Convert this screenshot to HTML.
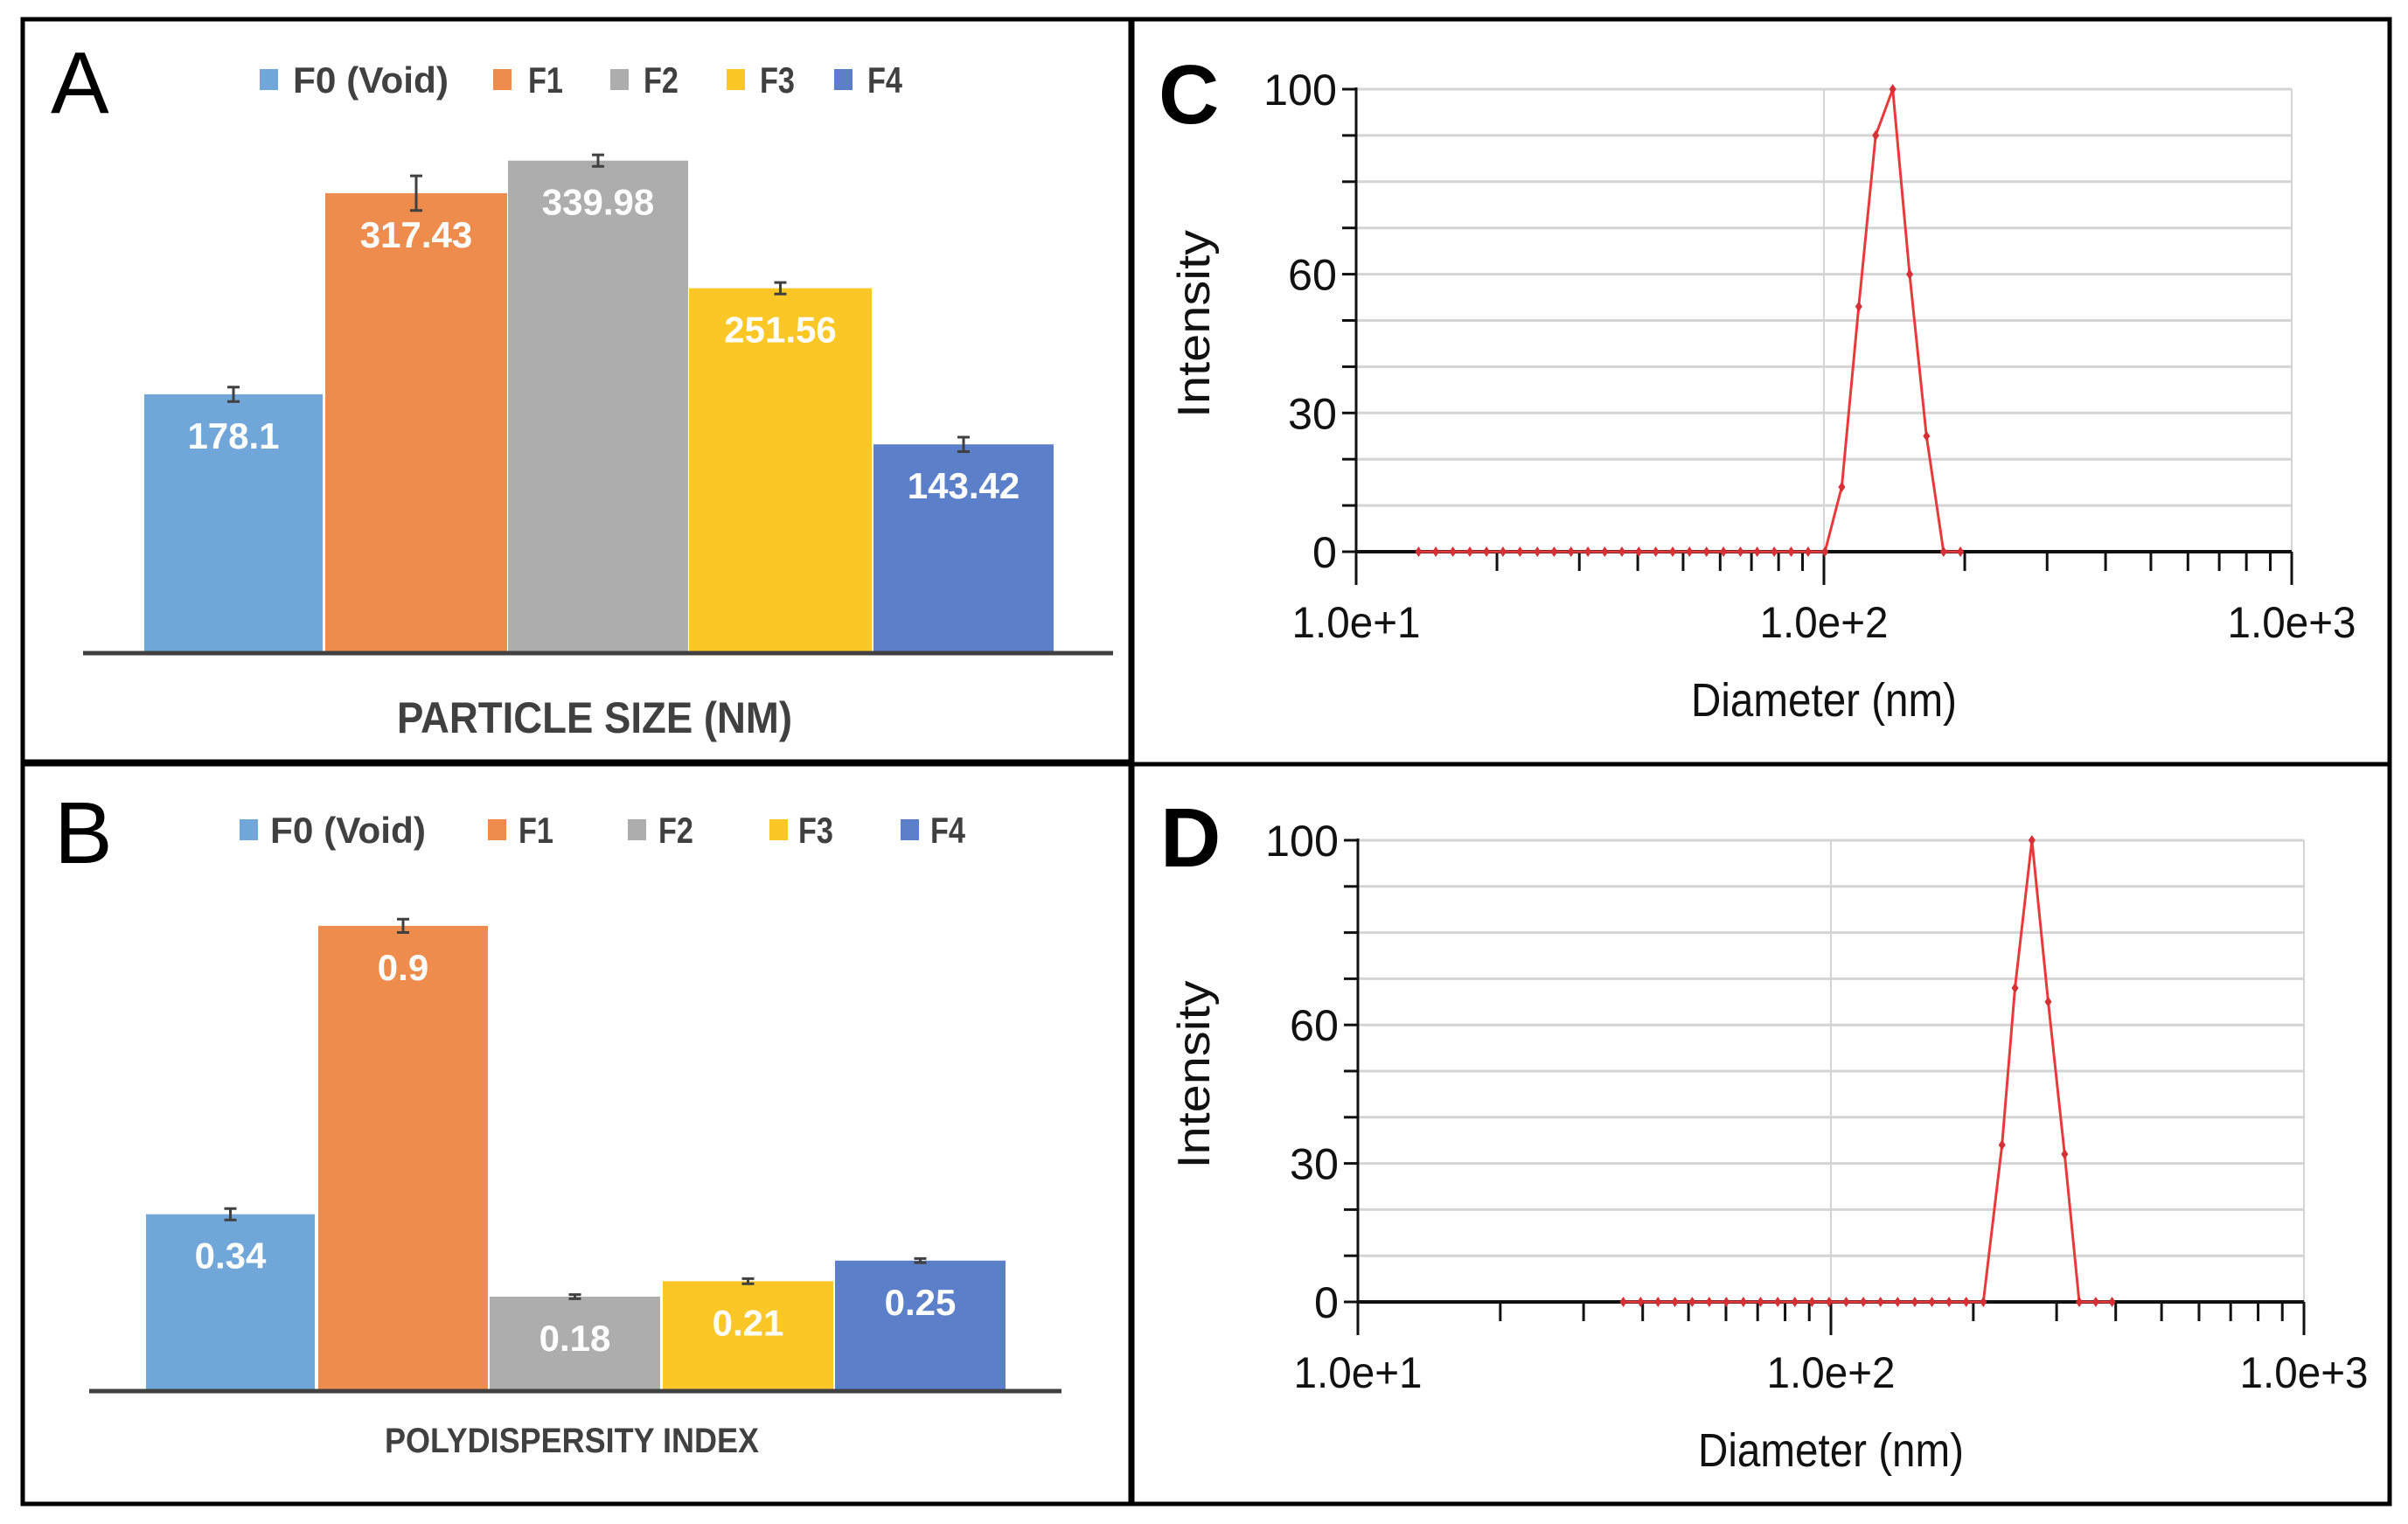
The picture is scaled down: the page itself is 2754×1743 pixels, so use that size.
<!DOCTYPE html>
<html><head><meta charset="utf-8"><style>
html,body{margin:0;padding:0;background:#fff;}
svg{display:block;}
text{font-family:"Liberation Sans",sans-serif;}
</style></head><body>
<svg id="root" width="2754" height="1743" viewBox="0 0 2754 1743" xmlns="http://www.w3.org/2000/svg">
  <rect x="0" y="0" width="2754" height="1743" fill="#fff"/>
  <g id="panelA"></g>
  <g id="panelB"></g>
  <g id="panelC"></g>
  <g id="panelD"></g>
</svg>
<script>
const categories = ["F0 (Void)", "F1", "F2", "F3", "F4"];
const sizeValues = [178.1, 317.43, 339.98, 251.56, 143.42];
const sizeErrors = [5, 12, 4, 4, 5];
const sizeLabels = ["178.1", "317.43", "339.98", "251.56", "143.42"];
const pdiValues = [0.34, 0.9, 0.18, 0.21, 0.25];
const pdiErrors = [0.011, 0.013, 0.004, 0.005, 0.004];
const pdiLabels = ["0.34", "0.9", "0.18", "0.21", "0.25"];
const colors = ["#70a6d8", "#ee8c4e", "#adadad", "#fbc726", "#5b80c9"];

const cDiam = [13.6,14.8,16.1,17.5,19.0,20.6,22.4,24.4,26.5,28.8,31.3,34.0,37.0,40.2,43.7,47.5,51.6,56.1,61.0,66.3,72.0,78.3,85.1,92.5,100.5,109.2,118.7,129,140.3,152.5,165.7,180.2,195.8];
const cInt  = [0,0,0,0,0,0,0,0,0,0,0,0,0,0,0,0,0,0,0,0,0,0,0,0,0,14,53,90,100,60,25,0,0];
const dDiam = [36.4,39.6,43.1,46.8,50.9,55.3,60.1,65.3,71.0,77.2,83.9,91.2,99.1,107.7,117.1,127.3,138.4,150.4,163.5,177.7,193.2,210,230,245,266,288,312,335,363,393];
const dInt  = [0,0,0,0,0,0,0,0,0,0,0,0,0,0,0,0,0,0,0,0,0,0,34,68,100,65,32,0,0,0];
const yTicks = [0, 30, 60, 100];
const xTickLabels = ["1.0e+1", "1.0e+2", "1.0e+3"];

const NS = "http://www.w3.org/2000/svg";
function mk(parent, tag, attrs, txt){
  const e = document.createElementNS(NS, tag);
  for (const k in attrs) e.setAttribute(k, attrs[k]);
  if (txt !== undefined) e.textContent = txt;
  parent.appendChild(e);
  return e;
}

function barPanel(g, box, letter, letterPos, legend, base, x0, x1, bars, vals, errs, labels, pxPerUnit, title, titleY, titleLen, titleSize){
  const fr = mk(g,'rect',{x:box[0],y:box[1],width:box[2]-box[0],height:box[3]-box[1],fill:'none',stroke:'#000','stroke-width':5});
   
  const L = mk(g,'text',{x:letterPos[0],y:letterPos[1],'font-size':100,fill:'#000'},letter);
   
  for (let i=0;i<categories.length;i++){
    const sq = mk(g,'rect',{x:legend.sq[i],y:legend.y-12,width:21,height:24,fill:colors[i]});
     
    const t = mk(g,'text',{x:legend.tx[i],y:legend.y+15,'font-size':42,'font-weight':'bold',fill:'#404040',textLength:i===0?178:40,lengthAdjust:'spacingAndGlyphs'},categories[i]);
     
  }
  const yS = v => base - v*pxPerUnit;
  for (let i=0;i<vals.length;i++){
    const top = yS(vals[i]);
    const r = mk(g,'rect',{x:bars[i][0],y:top,width:bars[i][1]-bars[i][0],height:base-top,fill:colors[i]});
     
    const cx = (bars[i][0]+bars[i][1])/2;
    const e1 = yS(vals[i]+errs[i]), e2 = yS(vals[i]-errs[i]);
    const eb = mk(g,'path',{d:`M${cx} ${e1}V${e2}M${cx-7} ${e1}H${cx+7}M${cx-7} ${e2}H${cx+7}`,stroke:'#404040','stroke-width':3,fill:'none'});
     
    const lt = mk(g,'text',{x:cx,y:top+62,'font-size':42,'font-weight':'bold',fill:'#fff','text-anchor':'middle'},labels[i]);
     
  }
  const ax = mk(g,'line',{x1:x0,y1:base+2,x2:x1,y2:base+2,stroke:'#404040','stroke-width':5});
   
  const tt = mk(g,'text',{x:(x0+x1)/2-4,y:titleY,'font-size':titleSize,'font-weight':'bold',fill:'#404040','text-anchor':'middle',textLength:titleLen,lengthAdjust:'spacingAndGlyphs'},title);
   
}

barPanel(document.getElementById('panelA'), [26,22,1293,871], 'A', [58,129],
  {y:91, sq:[297,564,698,831,954], tx:[335,604,736,869,992]},
  745, 95, 1273, [[165,369],[372,580],[581,787],[788,997],[999,1205]],
  sizeValues, sizeErrors, sizeLabels, 1.651, 'PARTICLE SIZE (NM)', 838, 452, 50);
barPanel(document.getElementById('panelB'), [26,874,1293,1720], 'B', [62,987],
  {y:949, sq:[274,558,718,880,1030], tx:[309,593,753,913,1064]},
  1589, 102, 1214, [[167,360],[364,558],[560,755],[758,953],[955,1150]],
  pdiValues, pdiErrors, pdiLabels, 589, 'POLYDISPERSITY INDEX', 1661, 428, 40);

function dlsPanel(g, box, letter, letterPos, px0, px3, py0, py100, diam, inten){
  const fr = mk(g,'rect',{x:box[0],y:box[1],width:box[2]-box[0],height:box[3]-box[1],fill:'none',stroke:'#000','stroke-width':5});
   
  const L = mk(g,'text',{x:letterPos[0],y:letterPos[1],'font-size':96,'font-weight':'bold',fill:'#000'},letter);
   
  const xS = d => px0 + (Math.log10(d)-1)/2*(px3-px0);
  const yS = v => py0 - v/100*(py0-py100);
  for (let v=10; v<=100; v+=10){
    const gl = mk(g,'line',{x1:px0,y1:yS(v),x2:px3,y2:yS(v),stroke:'#d4d4d4','stroke-width':3});
     
  }
  for (const d of [100,1000]){
    const vl = mk(g,'line',{x1:xS(d),y1:py100,x2:xS(d),y2:py0,stroke:'#d4d4d4','stroke-width':2});
     
  }
  const ya = mk(g,'line',{x1:px0,y1:py100-2,x2:px0,y2:py0+38,stroke:'#111','stroke-width':3});
   
  for (let v=0; v<=100; v+=10){
    const tk = mk(g,'line',{x1:px0-16,y1:yS(v),x2:px0,y2:yS(v),stroke:'#111','stroke-width':3});
     
  }
  for (const v of yTicks){
    const t = mk(g,'text',{x:px0-22,y:yS(v)+18,'font-size':50,fill:'#111','text-anchor':'end',textLength:v===100?84:(v===0?28:56),lengthAdjust:'spacingAndGlyphs'},String(v));
     
  }
  const xa = mk(g,'line',{x1:px0,y1:py0,x2:px3,y2:py0,stroke:'#111','stroke-width':4});
   
  for (let dec=10; dec<=1000; dec*=10){
    for (let m=1; m<10; m++){
      const d = dec*m; if (d>1000) break;
      const major = m===1;
      const tk = mk(g,'line',{x1:xS(d),y1:py0,x2:xS(d),y2:py0+(major?38:22),stroke:'#111','stroke-width':3});
       
    }
  }
  [10,100,1000].forEach((d,i)=>{
    const t = mk(g,'text',{x:xS(d),y:py0+98,'font-size':50,fill:'#111','text-anchor':'middle',textLength:147,lengthAdjust:'spacingAndGlyphs'},xTickLabels[i]);
     
  });
  const xt = mk(g,'text',{x:xS(100),y:py0+188,'font-size':54,fill:'#111','text-anchor':'middle',textLength:304,lengthAdjust:'spacingAndGlyphs'},'Diameter (nm)');
   
  const ycy = (py0+py100)/2+4;
  const yt = mk(g,'text',{x:0,y:0,'font-size':52,fill:'#111','text-anchor':'middle',textLength:215,lengthAdjust:'spacingAndGlyphs',transform:`translate(${box[0]+88},${ycy}) rotate(-90)`},'Intensity');
   
  let d = '';
  diam.forEach((v,i)=>{ d += (i?'L':'M')+xS(v).toFixed(1)+' '+yS(inten[i]).toFixed(1); });
  const ln = mk(g,'path',{d:d,fill:'none',stroke:'#e8393b','stroke-width':3});
   
  diam.forEach((v,i)=>{
    const x = xS(v), y = yS(inten[i]);
    const p = mk(g,'path',{d:`M${x} ${y-6}L${x+4} ${y}L${x} ${y+6}L${x-4} ${y}Z`,fill:'#d43035'});
     
  });
}
dlsPanel(document.getElementById('panelC'), [1295,22,2733,874], 'C', [1325,141], 1551, 2621, 631, 102, cDiam, cInt);
dlsPanel(document.getElementById('panelD'), [1295,874,2733,1720], 'D', [1327,991], 1553, 2635, 1489, 961, dDiam, dInt);
</script>
</body></html>
